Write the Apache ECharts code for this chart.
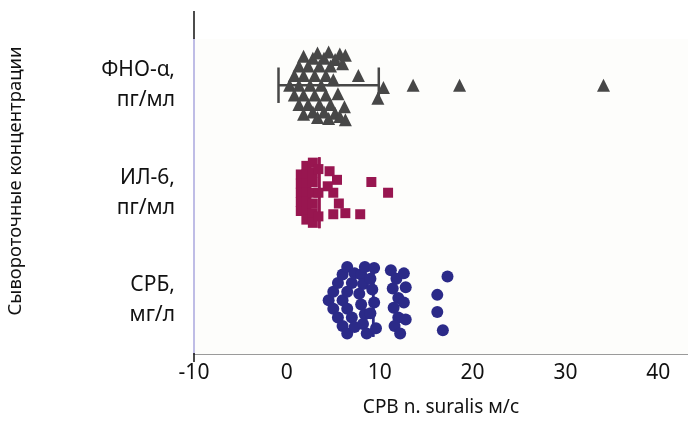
<!DOCTYPE html>
<html>
<head>
<meta charset="utf-8">
<script src="https://cdn.jsdelivr.net/npm/echarts@6/dist/echarts.min.js"></script>
<style>html,body{margin:0;padding:0;background:#fff;}#c{width:688px;height:422px;}</style>
</head>
<body>
<div id="c"></div>
<script>
// Categories (top to bottom) and their row positions on the vertical axis
const categories = ['ФНО-α,\nпг/мл', 'ИЛ-6,\nпг/мл', 'СРБ,\nмг/л'];
const rowPos = [3, 2, 1];

// ФНО-α: values (СРВ, м/с) and vertical jitter within the row
const tnfValues = [
  0.3,0.8,0.8,1.3,1.3,1.8,1.8,
  1.3,1.8,1.8,2.3,2.3,2.8,2.8,3.3,3.3,
  2.5,3.0,3.0,3.5,3.5,4.0,4.0,4.5,4.5,
  3.7,4.2,4.2,4.7,4.7,5.2,5.2,5.7,5.7,
  5.0,5.5,6.0,6.2,6.3,6.3,
  7.7,9.8,10.4,13.6,18.6,34.1];
const tnfSpread = [
  0,-0.09,0.09,-0.18,0.18,-0.27,0.27,
  0,-0.09,0.09,-0.18,0.18,-0.25,0.25,-0.3,0.3,
  0,-0.09,0.09,-0.18,0.18,-0.25,0.25,-0.31,0.31,
  0,-0.09,0.09,-0.18,0.18,-0.24,0.26,-0.29,0.29,
  -0.05,0.08,-0.2,0.2,-0.28,0.32,
  -0.09,0.12,0.02,0,0,0];

// ИЛ-6
const il6Values = [
  1.5,1.5,1.5,1.5,1.5,
  2.1,2.1,2.1,2.1,2.1,2.1,2.1,
  2.8,2.8,2.8,2.8,2.8,2.8,2.8,
  3.4,3.4,3.4,
  4.6,5.4,5.0,5.6,6.3,5.0,7.9,9.1,10.9,4.4];
const il6Spread = [
  -0.17,-0.085,0,0.085,0.17,
  -0.25,-0.17,-0.085,0,0.085,0.17,0.25,
  -0.28,-0.19,-0.1,0,0.1,0.19,0.28,
  -0.22,0,0.22,
  -0.2,-0.12,0.0,0.1,0.19,0.2,0.2,-0.1,0.0,-0.06];

// СРБ
const crpValues = [
  4.5,5.0,5.0,5.5,5.5,6.0,6.0,6.5,6.5,
  6.0,6.5,6.5,7.0,7.0,7.3,7.3,
  8.0,8.4,8.2,7.8,8.0,8.4,8.2,8.6,9.0,9.2,9.4,9.0,9.6,9.4,
  11.2,11.8,11.4,12.0,11.5,12.0,11.6,12.2,12.6,12.8,12.6,12.8,
  17.3,16.2,16.2,16.8];
const crpSpread = [
  0,-0.08,0.08,-0.16,0.16,-0.24,0.24,-0.31,0.31,
  0,-0.08,0.08,-0.16,0.16,-0.25,0.25,
  -0.24,-0.31,-0.15,-0.06,0.04,0.13,0.22,0.31,-0.2,-0.1,0.02,0.12,0.26,-0.3,
  -0.28,-0.2,-0.11,-0.02,0.07,0.16,0.24,0.31,-0.25,-0.12,0.02,0.18,
  -0.22,-0.05,0.11,0.28];

// Error bars: low, high, cap half-height (row units)
const errLow = [-0.9, 3.5, 9.3];
const errHigh = [9.9, 3.5, 9.3];
const errCap = [0.165, 0.33, 0.34];

// Axis settings
const xMin = -10, xMax = 43.2, xStep = 10;
const yMin = 0.5, yMax = 3.43;

const FONT = 'Noto Sans';
const colors = ['#474747', '#981650', '#2b2a88'];

function pts(vals, spread, row) {
  return vals.map((v, i) => [v, row - spread[i]]);
}

const chart = echarts.init(document.getElementById('c'), null, {renderer: 'canvas'});

const errData = errLow.map((l, i) => [l, errHigh[i], rowPos[i], errCap[i], i]);

chart.setOption({
  animation: false,
  backgroundColor: '#ffffff',
  grid: {left: 194, right: 0, top: 39, bottom: 60, show: true, backgroundColor: '#fdfdfb', borderWidth: 0},
  xAxis: {
    type: 'value', min: xMin, max: xMax, interval: xStep,
    axisLine: {show: true, onZero: false, lineStyle: {color: '#9a9a9a', width: 1.2}},
    axisTick: {show: false},
    splitLine: {show: false},
    axisLabel: {color: '#111', fontFamily: FONT, fontSize: 21, margin: 9, showMaxLabel: false},
    name: 'СРВ n. suralis м/с', nameLocation: 'middle', nameGap: 44,
    nameTextStyle: {color: '#111', fontFamily: FONT, fontSize: 19}
  },
  yAxis: {
    type: 'value', min: yMin, max: yMax,
    axisLine: {show: true, onZero: false, lineStyle: {color: '#aaa7de', width: 1.5}},
    axisTick: {show: false},
    splitLine: {show: false},
    axisLabel: {
      customValues: rowPos,
      color: '#111', fontFamily: FONT, fontSize: 21, lineHeight: 30, margin: 19, align: 'right',
      formatter: function (v) {
        const i = rowPos.indexOf(Math.round(v));
        return i >= 0 ? categories[i] : '';
      }
    }
  },
  graphic: [
    {type: 'line', shape: {x1: 194, y1: 11, x2: 194, y2: 39}, style: {stroke: '#111', lineWidth: 1.5}, z: 100},
    {type: 'line', shape: {x1: 194, y1: 353, x2: 194, y2: 362}, style: {stroke: '#111', lineWidth: 1.5}, z: 100},
    {type: 'text', x: 16, y: 181, rotation: Math.PI / 2, style: {
      text: 'Сывороточные концентрации', fill: '#111', font: '18.5px "Noto Sans"',
      textAlign: 'center', textVerticalAlign: 'middle'}}
  ],
  series: [
    {
      type: 'custom', z: 1,
      data: errData,
      renderItem: function (params, api) {
        const lo = api.coord([api.value(0), api.value(2)]);
        const hi = api.coord([api.value(1), api.value(2)]);
        const h = api.size([0, api.value(3)])[1];
        const c = colors[api.value(4)];
        const st = {stroke: c, lineWidth: 2.5};
        const children = [
          {type: 'line', shape: {x1: lo[0], y1: lo[1] - h, x2: lo[0], y2: lo[1] + h}, style: st},
          {type: 'line', shape: {x1: hi[0], y1: hi[1] - h, x2: hi[0], y2: hi[1] + h}, style: st}
        ];
        if (hi[0] - lo[0] > 1) {
          children.push({type: 'line', shape: {x1: lo[0], y1: lo[1], x2: hi[0], y2: hi[1]}, style: st});
        }
        return {type: 'group', children: children};
      }
    },
    {
      type: 'scatter', name: 'ФНО-α', z: 3, symbol: 'triangle', symbolSize: 13,
      itemStyle: {color: colors[0], opacity: 1},
      data: pts(tnfValues, tnfSpread, rowPos[0])
    },
    {
      type: 'scatter', name: 'ИЛ-6', z: 3, symbol: 'rect', symbolSize: 10,
      itemStyle: {color: colors[1], opacity: 1},
      data: pts(il6Values, il6Spread, rowPos[1])
    },
    {
      type: 'scatter', name: 'СРБ', z: 3, symbol: 'circle', symbolSize: 12,
      itemStyle: {color: colors[2], opacity: 1},
      data: pts(crpValues, crpSpread, rowPos[2])
    }
  ]
});
</script>
</body>
</html>
